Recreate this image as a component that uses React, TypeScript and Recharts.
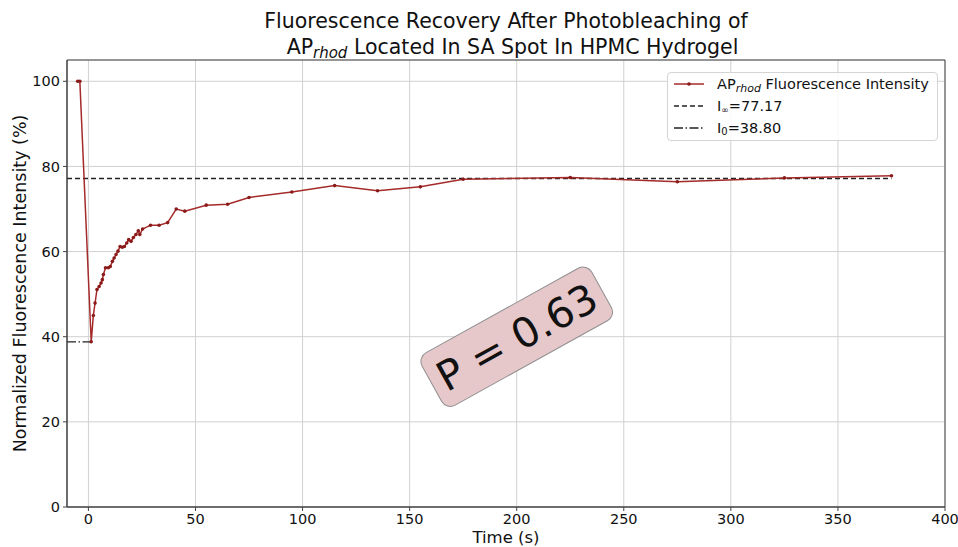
import { LineChart, Line, XAxis, YAxis, CartesianGrid, Legend, ReferenceLine, ReferenceDot, ReferenceArea } from 'recharts';

const FONT = '"DejaVu Sans", sans-serif';
const LINE_RED = '#a52a2a';
const DOT_RED = '#8b1a1a';

// time after bleach (s) and normalized intensity (%)
const timeSec = [
  -5, -4, 1.3, 2.3, 3.1, 4, 5, 5.9, 6.5, 7, 8, 9.3, 10.2, 11.2, 12, 12.9, 13.8, 14.8,
  15.8, 16.8, 17.9, 18.8, 19.9, 21, 22.2, 23.3, 24, 25.3, 29, 33, 37, 41, 45, 55, 65,
  75, 95, 115, 135, 155, 175, 225, 275, 325, 375,
];
const intensity = [
  100, 100, 38.8, 45.0, 47.9, 51.1, 51.8, 52.6, 53.4, 54.6, 56.2, 56.2, 56.5, 57.7, 58.5,
  59.3, 60.1, 61.2, 61.0, 61.2, 62.0, 62.8, 62.4, 63.3, 64.0, 64.9, 64.0, 65.3, 66.2,
  66.2, 66.8, 70.0, 69.5, 70.9, 71.1, 72.7, 74.0, 75.5, 74.3, 75.2, 77.0, 77.4, 76.4,
  77.3, 77.8,
];

const xTicks = [0, 50, 100, 150, 200, 250, 300, 350, 400];
const yTicks = [0, 20, 40, 60, 80, 100];

const plateau = 77.17;
const initial = 38.80;
const mobileFraction = 'P = 0.63';
const badgeAt = { x: 200, y: 40 };

const data = timeSec.map((t, i) => ({ t, value: intensity[i] }));

const rowStyle = { display: 'flex', alignItems: 'center', height: 22 } as const;

const FrapLegend = () => (
  <div
    style={{
      width: 271,
      boxSizing: 'border-box',
      border: '1px solid #d4d4d4',
      borderRadius: 4,
      background: 'rgba(255,255,255,0.85)',
      padding: '0px 6px 1px 6px',
      fontFamily: FONT,
      fontSize: 14.5,
      color: '#111',
      lineHeight: '18px',
    }}
  >
    <div style={rowStyle}>
      <svg width={30} height={10} style={{ marginRight: 13 }}>
        <line x1={0} y1={5} x2={30} y2={5} stroke={LINE_RED} strokeWidth={1.5} />
        <circle cx={15} cy={5} r={1.8} fill={DOT_RED} />
      </svg>
      <span>
        AP<sub style={{ fontStyle: 'italic', fontSize: 11, verticalAlign: '-3px', lineHeight: 0 }}>rhod</sub> Fluorescence Intensity
      </span>
    </div>
    <div style={rowStyle}>
      <svg width={30} height={10} style={{ marginRight: 13 }}>
        <line x1={0} y1={5} x2={30} y2={5} stroke="#222" strokeWidth={1.3} strokeDasharray="5 3" />
      </svg>
      <span>I<sub style={{ fontSize: 9, verticalAlign: '-2px', lineHeight: 0 }}>∞</sub>=77.17</span>
    </div>
    <div style={rowStyle}>
      <svg width={30} height={10} style={{ marginRight: 13 }}>
        <line x1={0} y1={5} x2={30} y2={5} stroke="#222" strokeWidth={1.3} strokeDasharray="9 2.5 1.5 2.5" />
      </svg>
      <span>I<sub style={{ fontSize: 10, verticalAlign: '-2px', lineHeight: 0 }}>0</sub>=38.80</span>
    </div>
  </div>
);

const PBadge = (props: any) => {
  const { cx, cy } = props;
  return (
    <g transform={`translate(${cx},${cy}) rotate(-29)`}>
      <rect x={-97} y={-30} width={194} height={60} rx={10} fill="#e6c8cb" stroke="#8f8f8f" strokeWidth={1} />
      <text x={0} y={1} textAnchor="middle" dominantBaseline="central" fontSize={41} fontFamily={FONT} fill="#111">
        {mobileFraction}
      </text>
    </g>
  );
};

const YLabel = (props: any) => {
  const { viewBox } = props;
  const cy = viewBox.y + viewBox.height / 2;
  return (
    <text
      x={20}
      y={cy}
      transform={`rotate(-90, 20, ${cy})`}
      textAnchor="middle"
      dominantBaseline="central"
      fontSize={17.5}
      fontFamily={FONT}
      fill="#111"
    >
      Normalized Fluorescence Intensity (%)
    </text>
  );
};

export default function App() {
  const tickStyle = { fill: '#111', fontSize: 14.5, fontFamily: FONT };
  return (
    <div style={{ position: 'absolute', left: 0, top: 0, width: 958, height: 547, background: '#fff' }}>
      <div
        style={{
          position: 'absolute',
          left: 67,
          top: 8,
          width: 878,
          textAlign: 'center',
          fontFamily: FONT,
          fontSize: 20.5,
          lineHeight: '26px',
          color: '#111',
          zIndex: 2,
        }}
      >
        <div>Fluorescence Recovery After Photobleaching of</div>
        <div>
          &nbsp;&nbsp;AP<sub style={{ fontStyle: 'italic', fontSize: 15, verticalAlign: '-4px', lineHeight: 0 }}>rhod</sub> Located In SA Spot In HPMC Hydrogel
        </div>
      </div>
      <LineChart width={958} height={547} data={data} margin={{ top: 60, right: 13, left: 0, bottom: 0 }}>
        <CartesianGrid stroke="#d0d0d0" strokeWidth={1} />
        <XAxis
          dataKey="t"
          type="number"
          domain={[-10, 400]}
          ticks={xTicks}
          allowDataOverflow
          height={40}
          tick={tickStyle}
          tickSize={4}
          tickMargin={3}
          stroke="#444"
          label={{ value: 'Time (s)', position: 'insideBottom', offset: 4, fontSize: 16.5, fontFamily: FONT, fill: '#111' }}
        />
        <YAxis
          type="number"
          domain={[0, 105]}
          ticks={yTicks}
          allowDataOverflow
          width={67}
          tick={tickStyle}
          tickSize={4}
          tickMargin={3}
          stroke="#444"
          label={<YLabel />}
        />
        <ReferenceArea x1={-10} x2={400} y1={0} y2={105} fill="none" stroke="#444" strokeWidth={1} />
        <ReferenceLine
          segment={[{ x: -10, y: plateau }, { x: 375, y: plateau }]}
          stroke="#222"
          strokeWidth={1.3}
          strokeDasharray="5 3"
        />
        <ReferenceLine
          segment={[{ x: -10, y: initial }, { x: 1.3, y: initial }]}
          stroke="#222"
          strokeWidth={1.3}
          strokeDasharray="9 2.5 1.5 2.5"
        />
        <Line
          dataKey="value"
          type="linear"
          stroke={LINE_RED}
          strokeWidth={1.5}
          dot={{ r: 1.8, fill: DOT_RED, stroke: DOT_RED, strokeWidth: 0 }}
          activeDot={false}
          isAnimationActive={false}
        />
        <ReferenceDot x={badgeAt.x} y={badgeAt.y} shape={<PBadge />} />
        <Legend
          layout="vertical"
          align="center"
          verticalAlign="middle"
          content={<FrapLegend />}
          wrapperStyle={{ left: 667, top: 72, width: 271 }}
        />
      </LineChart>
    </div>
  );
}
